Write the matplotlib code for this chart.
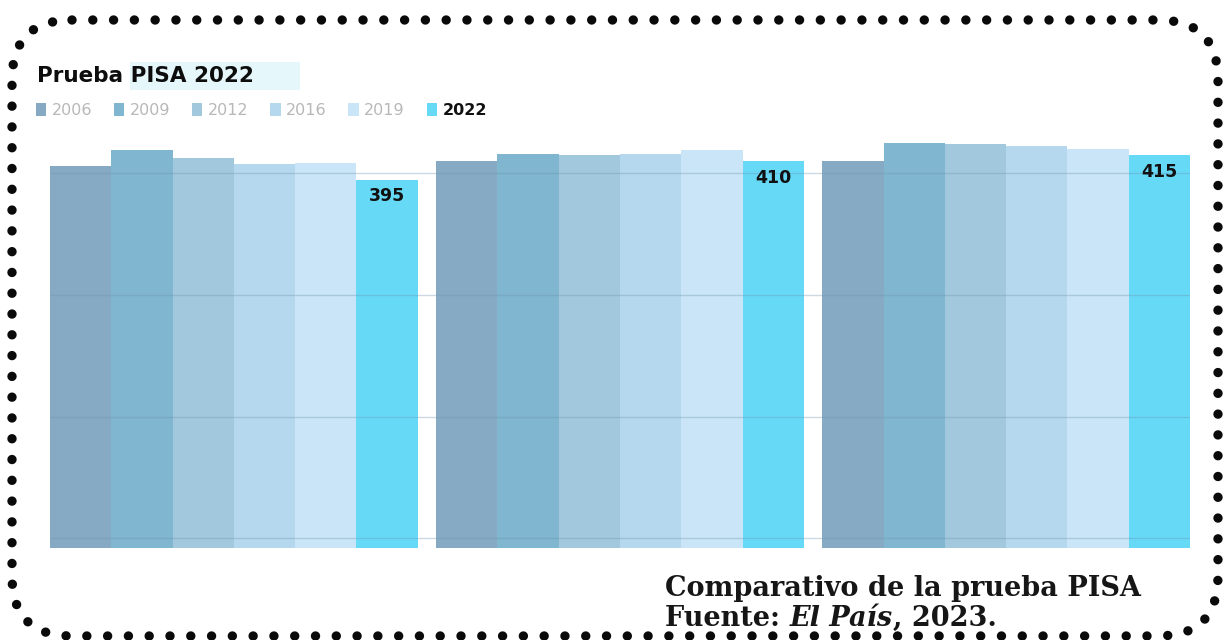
import matplotlib
matplotlib.use('Agg')
import matplotlib.pyplot as plt
from matplotlib.patches import Patch, FancyBboxPatch, Rectangle

# PISA scores (Mexico) - three subjects, six editions
years = ['2006', '2009', '2012', '2016', '2019', '2022']
math_scores = [406, 419, 413, 408, 409, 395]
science_scores = [410, 416, 415, 416, 419, 410]
reading_scores = [410, 425, 424, 423, 420, 415]
groups = [math_scores, science_scores, reading_scores]

bar_colors = ['#86aac4', '#80b6cf', '#a2c8de', '#b5d8ee', '#c9e5f7', '#66d9f7']
legend_text_colors = ['#b8b8b8'] * 5 + ['#111111']

W, H = 1228, 640
fig = plt.figure(figsize=(W / 100, H / 100), dpi=100)

# overlay axes in pixel coords for border / title decoration
deco = fig.add_axes([0, 0, 1, 1], zorder=0)
deco.set_xlim(0, W)
deco.set_ylim(H, 0)
deco.axis('off')

ax = fig.add_axes([50 / W, 92 / H, 1140 / W, (548 - 137) / H], zorder=1)
ax.patch.set_alpha(0)

gap = 0.3
for g, scores in enumerate(groups):
    xs = [g * (6 + gap) + i for i in range(6)]
    ax.bar(xs, scores, width=1.0, align='edge', color=bar_colors, zorder=2, linewidth=0)
    # value label on the 2022 bar
    ax.annotate(str(scores[-1]), xy=(xs[-1] + 0.5, scores[-1]), xytext=(0, -12),
                textcoords='offset points', ha='center', va='center',
                fontsize=12.5, fontweight='heavy', color='#111111', zorder=4)

for v in [100, 200, 300, 400]:
    ax.axhline(v, color='#6f94ad', linewidth=1.0, alpha=0.35, zorder=3)

ax.set_xlim(0, 3 * 6 + 2 * gap)
ax.set_ylim(92, 430)
ax.axis('off')

# title with light highlight behind "PISA 2022"
deco.add_patch(Rectangle((130, 62), 170, 28, color='#e6f7fb', linewidth=0, zorder=1))
deco.text(37, 76, 'Prueba PISA 2022', fontsize=15.5, fontweight='heavy',
          color='#0d0d0d', va='center', ha='left', zorder=2)

# legend
handles = [Patch(facecolor=c, edgecolor='none', label=y) for c, y in zip(bar_colors, years)]
leg = ax.legend(handles=handles, loc='upper left', ncol=6, frameon=False,
                bbox_to_anchor=(36 / W, 1 - 103 / H), bbox_transform=fig.transFigure,
                fontsize=11.5, handlelength=0.65, handleheight=0.85,
                handletextpad=0.35, columnspacing=1.35, borderaxespad=0, borderpad=0)
for t, c in zip(leg.get_texts(), legend_text_colors):
    t.set_color(c)
leg.get_texts()[-1].set_fontweight('bold')

# caption
cap_kw = dict(family='DejaVu Serif', fontweight='bold', fontsize=19.5, color='#161616')
deco.text(665, 596, 'Comparativo de la prueba PISA', ha='left', va='baseline', **cap_kw)
t1 = deco.text(665, 626, 'Fuente: ', ha='left', va='baseline', **cap_kw)
t2 = deco.annotate('El País', xy=(1, 0), xycoords=t1, ha='left', va='bottom',
                   fontstyle='italic', **cap_kw)
deco.annotate(', 2023.', xy=(1, 0), xycoords=t2, ha='left', va='bottom', **cap_kw)

# dotted rounded border, drawn as a dotted line along the rounded box outline
box = FancyBboxPatch((12, 20), 1206, 616, boxstyle='round,pad=0,rounding_size=60')
outline = box.get_path().to_polygons()[0]
deco.plot(outline[:, 0], outline[:, 1], color='#0a0a0a', linewidth=6.8,
          linestyle=(0, (0.001, 2.2)), dash_capstyle='round', solid_capstyle='round',
          zorder=5, clip_on=False)

fig.savefig('out.png', dpi=100, facecolor='white')
